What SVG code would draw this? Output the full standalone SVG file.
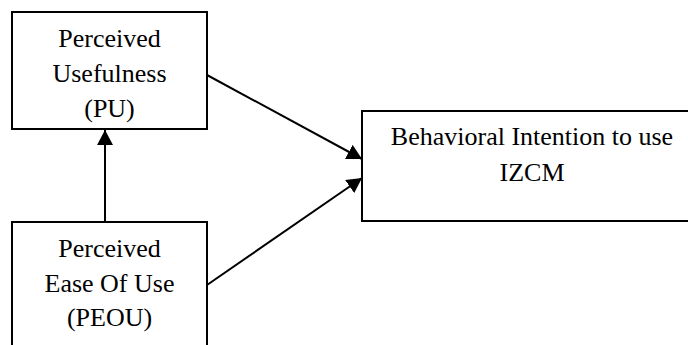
<svg xmlns="http://www.w3.org/2000/svg" width="688" height="345" viewBox="0 0 688 345">
<style>
.box{fill:#fff;stroke:#000;stroke-width:2}
.t{font-family:"Liberation Serif","Times New Roman",serif;font-size:26px;fill:#000;text-anchor:middle}
.c{stroke:#000;stroke-width:2;fill:none}
</style>
<defs>
<marker id="ah" markerUnits="userSpaceOnUse" markerWidth="15" markerHeight="16" refX="15" refY="8" orient="auto">
<path d="M0,0 L15,8 L0,16 Z" fill="#000"/>
</marker>
</defs>
<rect width="688" height="345" fill="#fff"/>
<g id="pu">
<rect class="box" x="12" y="12" width="195" height="117"/>
<text class="t" x="109.5" y="47">Perceived</text>
<text class="t" x="109.5" y="82">Usefulness</text>
<text class="t" x="109.5" y="117">(PU)</text>
</g>
<g id="peou">
<rect class="box" x="12" y="222" width="195" height="150"/>
<text class="t" x="109.5" y="257">Perceived</text>
<text class="t" x="109.5" y="292">Ease Of Use</text>
<text class="t" x="109.5" y="326">(PEOU)</text>
</g>
<g id="bi">
<rect class="box" x="362" y="111" width="340" height="110"/>
<text class="t" x="532" y="145">Behavioral Intention to use</text>
<text class="t" x="532" y="181">IZCM</text>
</g>
<g id="connectors">
<line class="c" x1="105" y1="222" x2="105" y2="130" marker-end="url(#ah)"/>
<line class="c" x1="207" y1="75" x2="362" y2="159" marker-end="url(#ah)"/>
<line class="c" x1="207" y1="285" x2="362" y2="178" marker-end="url(#ah)"/>
</g>
</svg>
